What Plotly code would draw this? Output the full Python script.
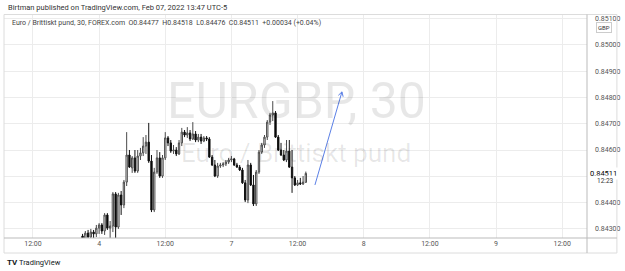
import math
import plotly.graph_objects as go

# ---- data (EURGBP, 30 min bars; index 0 = Feb 3 12:00, weekend gap removed) ----
bar_index = list(range(18, 100))
opens = [0.84273, 0.84239, 0.84284, 0.84269, 0.84288, 0.84281, 0.84303, 0.84315, 0.84292, 0.84353,
         0.84303, 0.84311, 0.84433, 0.84307, 0.84429, 0.84391, 0.84478, 0.84581, 0.84532, 0.84570,
         0.84520, 0.84577, 0.84589, 0.84615, 0.84630, 0.84558, 0.84372, 0.84516, 0.84570, 0.84501,
         0.84570, 0.84646, 0.84627, 0.84596, 0.84600, 0.84585, 0.84627, 0.84668, 0.84657, 0.84665,
         0.84642, 0.84661, 0.84638, 0.84649, 0.84634, 0.84646, 0.84642, 0.84573, 0.84543, 0.84501,
         0.84539, 0.84543, 0.84547, 0.84554, 0.84562, 0.84566, 0.84543, 0.84535, 0.84524, 0.84475,
         0.84410, 0.84543, 0.84467, 0.84395, 0.84516, 0.84592, 0.84619, 0.84649, 0.84706, 0.84733,
         0.84741, 0.84649, 0.84600, 0.84581, 0.84562, 0.84596, 0.84535, 0.84494, 0.84467, 0.84475,
         0.84471, 0.84477]
highs = [0.84281, 0.84292, 0.84296, 0.84300, 0.84296, 0.84315, 0.84322, 0.84322, 0.84360, 0.84360,
         0.84330, 0.84440, 0.84440, 0.84437, 0.84444, 0.84486, 0.84668, 0.84600, 0.84577, 0.84600,
         0.84600, 0.84608, 0.84649, 0.84657, 0.84703, 0.84581, 0.84532, 0.84600, 0.84592, 0.84581,
         0.84668, 0.84653, 0.84638, 0.84619, 0.84611, 0.84638, 0.84684, 0.84676, 0.84687, 0.84676,
         0.84706, 0.84672, 0.84661, 0.84661, 0.84653, 0.84653, 0.84649, 0.84581, 0.84562, 0.84551,
         0.84551, 0.84554, 0.84562, 0.84570, 0.84577, 0.84570, 0.84551, 0.84543, 0.84532, 0.84486,
         0.84562, 0.84551, 0.84505, 0.84524, 0.84600, 0.84627, 0.84657, 0.84714, 0.84741, 0.84786,
         0.84748, 0.84657, 0.84627, 0.84600, 0.84638, 0.84638, 0.84600, 0.84501, 0.84486, 0.84494,
         0.84501, 0.84518]
lows = [0.84220, 0.84220, 0.84239, 0.84243, 0.84227, 0.84269, 0.84281, 0.84281, 0.84277, 0.84296,
        0.84265, 0.84288, 0.84265, 0.84300, 0.84353, 0.84379, 0.84463, 0.84532, 0.84513, 0.84513,
        0.84513, 0.84562, 0.84577, 0.84585, 0.84551, 0.84364, 0.84364, 0.84509, 0.84494, 0.84494,
        0.84562, 0.84615, 0.84589, 0.84585, 0.84577, 0.84581, 0.84615, 0.84649, 0.84646, 0.84634,
        0.84638, 0.84630, 0.84630, 0.84623, 0.84630, 0.84634, 0.84570, 0.84539, 0.84497, 0.84494,
        0.84532, 0.84535, 0.84539, 0.84547, 0.84554, 0.84539, 0.84532, 0.84520, 0.84471, 0.84402,
        0.84398, 0.84463, 0.84387, 0.84387, 0.84509, 0.84585, 0.84608, 0.84638, 0.84695, 0.84710,
        0.84646, 0.84596, 0.84577, 0.84558, 0.84554, 0.84532, 0.84437, 0.84463, 0.84463, 0.84467,
        0.84467, 0.84476]
closes = [0.84239, 0.84284, 0.84269, 0.84288, 0.84281, 0.84303, 0.84315, 0.84292, 0.84353, 0.84303,
          0.84311, 0.84433, 0.84307, 0.84429, 0.84391, 0.84478, 0.84581, 0.84535, 0.84570, 0.84520,
          0.84577, 0.84589, 0.84615, 0.84630, 0.84558, 0.84372, 0.84516, 0.84570, 0.84501, 0.84570,
          0.84646, 0.84627, 0.84596, 0.84600, 0.84585, 0.84627, 0.84668, 0.84657, 0.84665, 0.84642,
          0.84661, 0.84638, 0.84649, 0.84634, 0.84646, 0.84642, 0.84573, 0.84543, 0.84501, 0.84539,
          0.84543, 0.84547, 0.84554, 0.84562, 0.84566, 0.84543, 0.84535, 0.84524, 0.84475, 0.84410,
          0.84543, 0.84467, 0.84395, 0.84516, 0.84592, 0.84619, 0.84649, 0.84706, 0.84733, 0.84741,
          0.84649, 0.84600, 0.84581, 0.84562, 0.84596, 0.84535, 0.84494, 0.84467, 0.84475, 0.84471,
          0.84478, 0.84511]

price_ticks = [0.843, 0.844, 0.845, 0.846, 0.847, 0.848, 0.849, 0.850, 0.851]
price_labels = ["0.84300", "0.84400", "", "0.84600", "0.84700", "0.84800", "0.84900", "0.85000", "0.85100"]
time_ticks = [0, 24, 48, 72, 96, 120, 144, 168, 192]
time_labels = ["12:00", "4", "12:00", "7", "12:00", "8", "12:00", "9", "12:00"]
last_price = 0.84511
last_price_text = "0.84511"
countdown = "12:23"
arrow_from = (102.3, 0.84467)
arrow_to = (112.1, 0.84821)

W, H = 625, 271
L, R, T, B = 4, 589, 15, 238  # plot area in pixels
X_RANGE = [-10.5, 201.0]
Y_RANGE = [0.842654, 0.851133]


def px(x):
    return (x - L) / (R - L)


def py(y):
    return (B - y) / (B - T)


FONT = "Roboto"
GRID = "#ececec"
FRAME = "#dcdcdc"
ARROW = "#5b80e6"

fig = go.Figure()
fig.add_trace(go.Candlestick(
    x=bar_index, open=opens, high=highs, low=lows, close=closes,
    increasing=dict(line=dict(color="#4a4a4a", width=1), fillcolor="#ffffff"),
    decreasing=dict(line=dict(color="#111111", width=1), fillcolor="#000000"),
    whiskerwidth=0, showlegend=False, hoverinfo="skip",
))

# open chevron arrow head, computed from the arrow end points in pixel space
sx = (R - L) / (X_RANGE[1] - X_RANGE[0])
sy = (B - T) / (Y_RANGE[1] - Y_RANGE[0])
dxp = (arrow_to[0] - arrow_from[0]) * sx
dyp = (arrow_to[1] - arrow_from[1]) * sy
ang = math.atan2(dyp, dxp)
head_shapes = []
for da in (math.radians(150), math.radians(-150)):
    hx = arrow_to[0] + 5 * math.cos(ang + da) / sx
    hy = arrow_to[1] + 5 * math.sin(ang + da) / sy
    head_shapes.append(dict(type="line", xref="x", yref="y", x0=arrow_to[0], y0=arrow_to[1],
                            x1=hx, y1=hy, line=dict(color=ARROW, width=1)))

annotations = [
    dict(text="Birtman published on TradingView.com, Feb 07, 2022 13:47 UTC-5",
         x=px(6), y=py(8), xref="paper", yref="paper", xanchor="left", yanchor="middle",
         showarrow=False, font=dict(family=FONT, size=7.5, color="#333333")),
    dict(text="Euro / Brittiskt pund, 30, FOREX.com&nbsp;&nbsp;O0.84477&nbsp;&nbsp;H0.84518&nbsp;&nbsp;L0.84476&nbsp;&nbsp;C0.84511&nbsp;&nbsp;+0.00034 (+0.04%)",
         x=px(10), y=py(23), xref="paper", yref="paper", xanchor="left", yanchor="middle",
         showarrow=False, font=dict(family=FONT, size=7, color="#444444")),
    dict(text="EURGBP, 30", x=px(298), y=py(101), xref="paper", yref="paper",
         xanchor="center", yanchor="middle", showarrow=False,
         font=dict(family=FONT, size=50, color="rgba(0,0,0,0.095)")),
    dict(text="Euro / Brittiskt pund", x=px(297), y=py(153), xref="paper", yref="paper",
         xanchor="center", yanchor="middle", showarrow=False,
         font=dict(family=FONT, size=26, color="rgba(0,0,0,0.095)")),
    dict(text=last_price_text, x=1, y=last_price, xref="paper", yref="y", xanchor="left",
         yanchor="middle", xshift=1, showarrow=False, bgcolor="#ffffff", borderpad=1,
         font=dict(family=FONT, size=7.5, color="#000000")),
    dict(text=countdown, x=1, y=last_price, xref="paper", yref="y", xanchor="left",
         yanchor="middle", xshift=8, yshift=-8, showarrow=False, bgcolor="#ffffff",
         font=dict(family=FONT, size=6.5, color="#333333")),
    dict(text="GBP", x=px(606), y=py(28), xref="paper", yref="paper", xanchor="center",
         yanchor="middle", showarrow=False, bgcolor="#ffffff", bordercolor="#cccccc",
         borderwidth=1, borderpad=1, font=dict(family=FONT, size=6, color="#333333")),
    dict(text="<b>TV</b>", x=px(5), y=py(262), xref="paper", yref="paper", xanchor="left",
         yanchor="middle", showarrow=False, font=dict(family=FONT, size=8, color="#131722")),
    dict(text="TradingView", x=px(17), y=py(262), xref="paper", yref="paper", xanchor="left",
         yanchor="middle", showarrow=False, font=dict(family=FONT, size=7.5, color="#131722")),
]

shapes = [
    dict(type="rect", xref="paper", yref="paper", x0=px(4), x1=px(619), y0=py(253), y1=py(14.5),
         line=dict(color=FRAME, width=1)),
    dict(type="line", xref="paper", yref="paper", x0=1, x1=1, y0=py(253), y1=py(14.5),
         line=dict(color="#bbbbbb", width=1)),
    dict(type="line", xref="paper", yref="paper", x0=px(4), x1=px(619), y0=0, y1=0,
         line=dict(color="#bbbbbb", width=1)),
    dict(type="line", xref="x", yref="y", x0=arrow_from[0], y0=arrow_from[1],
         x1=arrow_to[0], y1=arrow_to[1], line=dict(color=ARROW, width=1)),
] + head_shapes

fig.update_layout(
    width=W, height=H,
    margin=dict(l=L, r=W - R, t=T, b=H - B),
    paper_bgcolor="#ffffff", plot_bgcolor="#ffffff",
    font=dict(family=FONT),
    annotations=annotations, shapes=shapes,
    xaxis=dict(range=X_RANGE, tickvals=time_ticks, ticktext=time_labels,
               showgrid=True, gridcolor=GRID, gridwidth=1, zeroline=False, showline=False,
               ticks="", tickfont=dict(family=FONT, size=7, color="#555555"),
               rangeslider=dict(visible=False), fixedrange=True),
    yaxis=dict(side="right", range=Y_RANGE, tickvals=price_ticks, ticktext=price_labels,
               showgrid=True, gridcolor=GRID, gridwidth=1, zeroline=False, showline=False,
               ticks="", ticklabelstandoff=7,
               tickfont=dict(family=FONT, size=7, color="#555555"), fixedrange=True),
)

fig.write_html("out.html")
